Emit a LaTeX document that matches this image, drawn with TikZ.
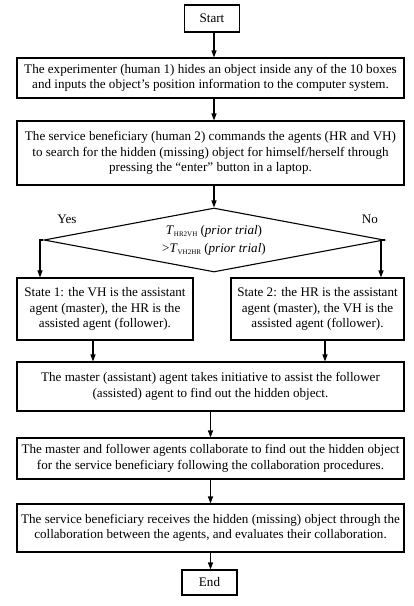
\documentclass[tikz,border=0pt]{standalone}
\usepackage{fontspec}
\setmainfont{Liberation Serif}
\usetikzlibrary{arrows.meta,shapes.geometric}
\begin{document}
\begin{tikzpicture}[x=1pt,y=-1pt,
  box/.style={draw,line width=1.1pt,rectangle,inner sep=1pt,align=center,
    font=\fontsize{13.1}{15.5}\selectfont},
  dec/.style={draw,line width=1.1pt,diamond,aspect=5.3,inner sep=0pt,
    minimum width=340pt,minimum height=64pt,align=center,
    font=\fontsize{13.1}{18}\selectfont},
  lab/.style={font=\fontsize{13.1}{15}\selectfont},
  arr/.style={line width=1.1pt,-{Triangle[length=7pt,width=5pt]}}]
\useasboundingbox (0,0) rectangle (413,606);
\node[box,minimum width=55pt,minimum height=27pt] (start) at (212,18.5) {Start};
\node[box,minimum width=387pt,minimum height=40pt] (b1) at (210.5,78)
  {The experimenter (human 1) hides an object inside any of the 10 boxes\\
   and inputs the object’s position information to the computer system.};
\node[box,minimum width=387pt,minimum height=64pt] (b2) at (210.5,153)
  {The service beneficiary (human 2) commands the agents (HR and VH)\\
   to search for the hidden (missing) object for himself/herself through\\
   pressing the “enter” button in a laptop.};
\node[dec] (dia) at (214,240)
  {\textit{T}\raisebox{-0.35ex}{\scriptsize HR2VH} (\textit{prior trial})\\
   >\textit{T}\raisebox{-0.35ex}{\scriptsize VH2HR} (\textit{prior trial})};
\node[lab] (yes) at (67,219) {Yes};
\node[lab] (no) at (370,219) {No};
\node[box,minimum width=176pt,minimum height=62pt] (s1) at (105,309)
  {State 1: the VH is the assistant\\ agent (master), the HR is the\\ assisted agent (follower).};
\node[box,minimum width=173pt,minimum height=62pt] (s2) at (317.5,309)
  {State 2: the HR is the assistant\\ agent (master), the VH is the\\ assisted agent (follower).};
\node[box,minimum width=387pt,minimum height=49pt] (b4) at (210.5,386.5)
  {The master (assistant) agent takes initiative to assist the follower\\
   (assisted) agent to find out the hidden object.};
\node[box,minimum width=387pt,minimum height=41pt] (b5) at (210.5,458.5)
  {The master and follower agents collaborate to find out the hidden object\\
   for the service beneficiary following the collaboration procedures.};
\node[box,minimum width=387pt,minimum height=48pt] (b6) at (210.5,528)
  {The service beneficiary receives the hidden (missing) object through the\\
   collaboration between the agents, and evaluates their collaboration.};
\node[box,minimum width=55pt,minimum height=25pt] (end) at (209.5,582.5) {End};
\coordinate (yl) at (40,240);
\coordinate (nr) at (381,240);
\draw[arr] ([xshift=2pt]start.south) -- ([xshift=2pt]start.south |- b1.north);
\draw[arr] ([xshift=3.5pt]b1.south) -- ([xshift=3.5pt]b1.south |- b2.north);
\draw[arr] ([xshift=3.5pt]b2.south) -- (dia.north);
\draw[arr] (dia.west) -- (yl) -- (yl |- s1.north);
\draw[arr] (dia.east) -- (nr) -- (nr |- s2.north);
\draw[arr] ([xshift=-12pt]s1.south) -- ([xshift=-12pt]s1.south |- b4.north);
\draw[arr] ([xshift=7.5pt]s2.south) -- ([xshift=7.5pt]s2.south |- b4.north);
\draw[arr] (b4.south) -- (b5.north);
\draw[arr] (b5.south) -- (b6.north);
\draw[arr] (b6.south) -- (b6.south |- end.north);
\end{tikzpicture}
\end{document}
